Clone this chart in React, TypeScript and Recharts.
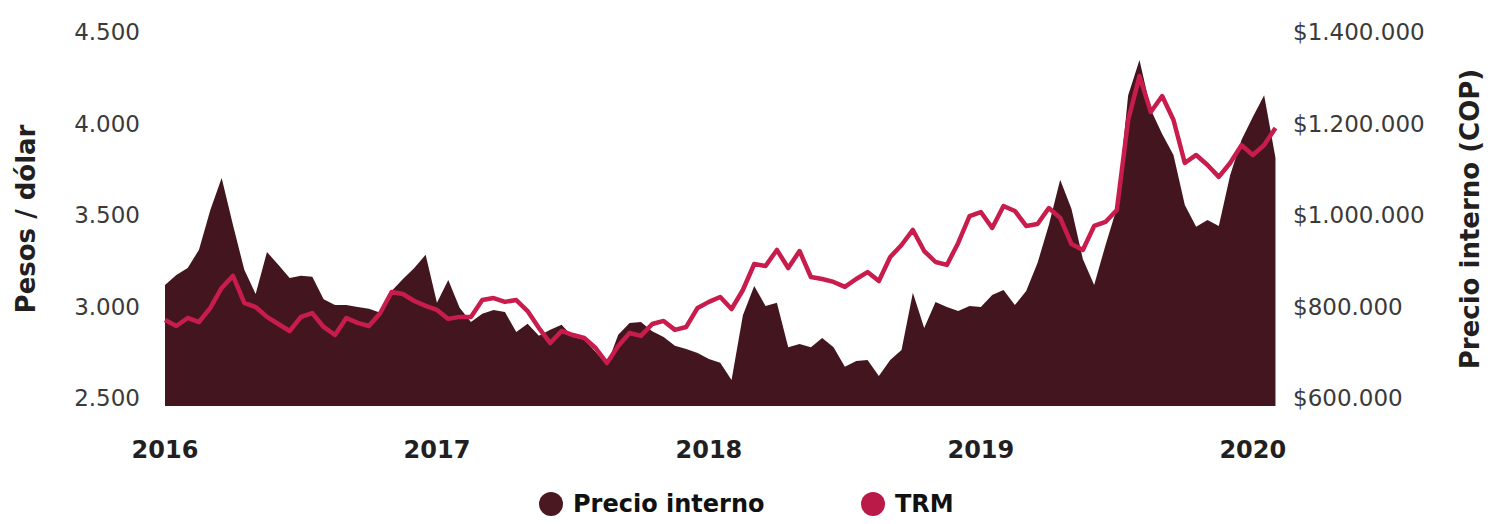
import React from "react";
import { ComposedChart, Area, Line, XAxis, YAxis } from "recharts";

// Serie quincenal desde enero de 2016
const precioInterno = [
  847000, 869000, 884000, 924000, 1011000, 1081000, 978000, 880000, 827000, 919000,
  891000, 862000, 867000, 865000, 816000, 803000, 803000, 799000, 795000, 786000,
  834000, 860000, 884000, 913000, 808000, 858000, 797000, 766000, 784000, 792000,
  788000, 744000, 762000, 736000, 749000, 760000, 733000, 727000, 701000, 672000,
  738000, 764000, 766000, 746000, 733000, 714000, 707000, 698000, 685000, 677000,
  639000, 781000, 845000, 801000, 808000, 711000, 718000, 711000, 731000, 711000,
  668000, 681000, 683000, 648000, 683000, 705000, 830000, 753000, 810000, 799000,
  790000, 801000, 799000, 825000, 836000, 803000, 834000, 895000, 978000, 1077000,
  1013000, 904000, 847000, 934000, 1015000, 1262000, 1339000, 1230000, 1177000, 1131000,
  1022000, 974000, 989000, 976000, 1087000, 1164000, 1214000, 1262000, 1125000,
];

const trm = [
  2926, 2893, 2937, 2915, 2992, 3101, 3167, 3019, 2997, 2943,
  2904, 2866, 2943, 2964, 2888, 2844, 2937, 2910, 2893, 2964,
  3079, 3068, 3030, 3003, 2981, 2932, 2943, 2943, 3035, 3046,
  3025, 3035, 2975, 2882, 2800, 2866, 2844, 2828, 2773, 2691,
  2784, 2855, 2839, 2904, 2921, 2872, 2888, 2992, 3025, 3052,
  2986, 3090, 3232, 3221, 3309, 3210, 3303, 3161, 3150, 3134,
  3107, 3150, 3188, 3139, 3270, 3336, 3418, 3303, 3243, 3227,
  3347, 3494, 3516, 3429, 3549, 3522, 3440, 3451, 3538, 3484,
  3341, 3309, 3440, 3462, 3527, 4019, 4259, 4063, 4150, 4019,
  3784, 3828, 3773, 3708, 3784, 3882, 3828, 3882, 3975,
];

// meses transcurridos desde enero 2016, cada quincena
const meses = precioInterno.map((_, i) => i / 2);

const anios = ["2016", "2017", "2018", "2019", "2020"];
const ticksAnios = [0, 12, 24, 36, 48];
const ticksTrm = [2500, 3000, 3500, 4000, 4500];
const ticksPrecio = [600000, 800000, 1000000, 1200000, 1400000];

const data = meses.map((mes, i) => ({ mes, precio: precioInterno[i], trm: trm[i] }));

const FONT = "'DejaVu Sans', sans-serif";
const AREA_COLOR = "#43161f";
const LINE_COLOR = "#c81d4c";

const puntos = (v: number) => String(v).replace(/\B(?=(\d{3})+(?!\d))/g, ".");

const AxisTitle = ({ viewBox, value, dx }: any) => {
  const cx = viewBox.x + dx;
  const cy = viewBox.y + viewBox.height / 2;
  return (
    <text
      x={cx}
      y={cy}
      transform={`rotate(-90, ${cx}, ${cy})`}
      textAnchor="middle"
      dominantBaseline="central"
      fontFamily={FONT}
      fontWeight="bold"
      fontSize={26}
      fill="#231f20"
    >
      {value}
    </text>
  );
};

export default function App() {
  return (
    <div style={{ position: "relative", width: 1490, height: 508, fontFamily: FONT }}>
      <ComposedChart width={1490} height={470} data={data} margin={{ top: 24, right: 0, bottom: 0, left: 0 }}>
        <XAxis
          dataKey="mes"
          type="number"
          domain={[0, 49.2]}
          ticks={ticksAnios}
          tickFormatter={(v: number) => anios[ticksAnios.indexOf(v)]}
          axisLine={false}
          tickLine={false}
          tickSize={0}
          tickMargin={35}
          height={72}
          tick={{ fontFamily: FONT, fontWeight: "bold", fontSize: 24, fill: "#231f20" }}
        />
        <YAxis
          yAxisId="trm"
          orientation="left"
          domain={[2456, 4500]}
          ticks={ticksTrm}
          tickFormatter={puntos}
          axisLine={false}
          tickLine={false}
          tickSize={0}
          tickMargin={25}
          width={157}
          tick={{ fontFamily: FONT, fontSize: 23, fill: "#3a3a3a" }}
          label={<AxisTitle value="Pesos / dólar" dx={18} />}
        />
        <YAxis
          yAxisId="precio"
          orientation="right"
          domain={[582400, 1400000]}
          ticks={ticksPrecio}
          tickFormatter={(v: number) => "$" + puntos(v)}
          axisLine={false}
          tickLine={false}
          tickSize={0}
          tickMargin={13}
          width={218}
          tick={{ fontFamily: FONT, fontSize: 23, fill: "#3a3a3a", textAnchor: "start" }}
          label={<AxisTitle value="Precio interno (COP)" dx={190} />}
        />
        <Area
          yAxisId="precio"
          dataKey="precio"
          type="linear"
          stroke="none"
          fill={AREA_COLOR}
          fillOpacity={1}
          isAnimationActive={false}
        />
        <Line
          yAxisId="trm"
          dataKey="trm"
          type="linear"
          stroke={LINE_COLOR}
          strokeWidth={4.5}
          strokeLinejoin="round"
          dot={false}
          isAnimationActive={false}
        />
      </ComposedChart>
      <div style={{ position: "absolute", top: 484, left: 0, width: 1490, height: 24 }}>
        {[
          { name: "Precio interno", color: "#4a1820", left: 531 },
          { name: "TRM", color: "#b91a48", left: 853 },
        ].map((it) => (
          <div
            key={it.name}
            style={{ position: "absolute", left: it.left, top: 0, height: 24, display: "flex", alignItems: "center" }}
          >
            <span style={{ width: 24, height: 24, borderRadius: 12, background: it.color, display: "inline-block" }} />
            <span style={{ marginLeft: 10, fontWeight: "bold", fontSize: 24, color: "#111", lineHeight: "24px" }}>
              {it.name}
            </span>
          </div>
        ))}
      </div>
    </div>
  );
}
